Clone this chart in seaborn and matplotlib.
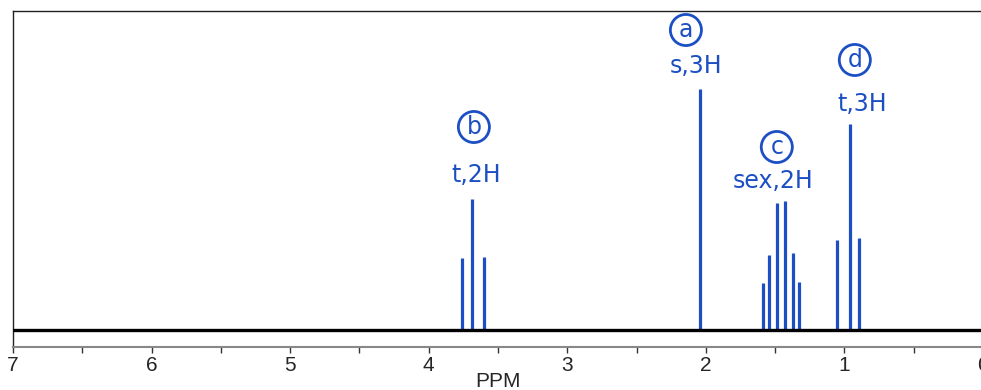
import numpy as np
import pandas as pd
import matplotlib
matplotlib.use("Agg")
import matplotlib.pyplot as plt
import seaborn as sns

# peak positions (ppm) and heights (arbitrary intensity)
ppm_b = [3.76, 3.69, 3.60]
int_b = [72, 131, 73]
ppm_a = [2.04]
int_a = [241]
ppm_c = [1.591, 1.543, 1.490, 1.430, 1.374, 1.327]
int_c = [47, 75, 127, 129, 77, 48]
ppm_d = [1.05, 0.961, 0.894]
int_d = [90, 206, 92]

labels = ["a", "b", "c", "d"]
notes = ["s,3H", "t,2H", "sex,2H", "t,3H"]
circle_pos = [(2.144, 300), (3.674, 203), (1.488, 183), (0.925, 270)]
note_pos = [(2.072, 264), (3.66, 155), (1.517, 149), (0.874, 226)]

peaks = pd.DataFrame({
    "ppm": ppm_b + ppm_a + ppm_c + ppm_d,
    "intensity": int_b + int_a + int_c + int_d,
})

sns.set_theme(style="ticks")
plt.rcParams["font.family"] = ["Liberation Sans Narrow", "Liberation Sans", "DejaVu Sans"]

blue = "#1c4fc4"

fig = plt.figure(figsize=(9.81, 3.90), dpi=100)
ax = fig.add_axes([13 / 981, 43 / 390, 970 / 981, 336 / 390])

# baseline
ax.axhline(0, color="black", lw=2.4, zorder=3)
ax.vlines(peaks["ppm"], 0, peaks["intensity"], color=blue, lw=2.3, zorder=2)

for lab, (cx, cy) in zip(labels, circle_pos):
    ax.text(cx, cy, lab, color=blue, fontsize=17, ha="center", va="center",
            family="DejaVu Sans",
            bbox=dict(boxstyle="circle,pad=0.15", fc="none", ec=blue, lw=2))
for txt, (tx, ty) in zip(notes, note_pos):
    ax.text(tx, ty, txt, color=blue, fontsize=17, ha="center", va="center",
            family="DejaVu Sans")

ax.set_xlim(7, 0)
ax.set_ylim(-17, 319)
ax.set_yticks([])
ax.set_xticks(np.arange(0, 8, 1))
ax.set_xticks(np.arange(0.5, 7, 1), minor=True)
ax.set_xticklabels([str(i) for i in range(8)])
ax.tick_params(axis="x", which="major", direction="out", length=4.5, width=1,
               color="#333333", labelsize=15, pad=2)
ax.tick_params(axis="x", which="minor", direction="out", length=4, width=1,
               color="#333333")
ax.set_xlabel("PPM", fontsize=15, labelpad=-2)

for side in ["top", "left", "right"]:
    ax.spines[side].set_color("#222222")
    ax.spines[side].set_linewidth(1)
ax.spines["bottom"].set_color("#888888")
ax.spines["bottom"].set_linewidth(1.5)

fig.savefig("out.png", dpi=100)
